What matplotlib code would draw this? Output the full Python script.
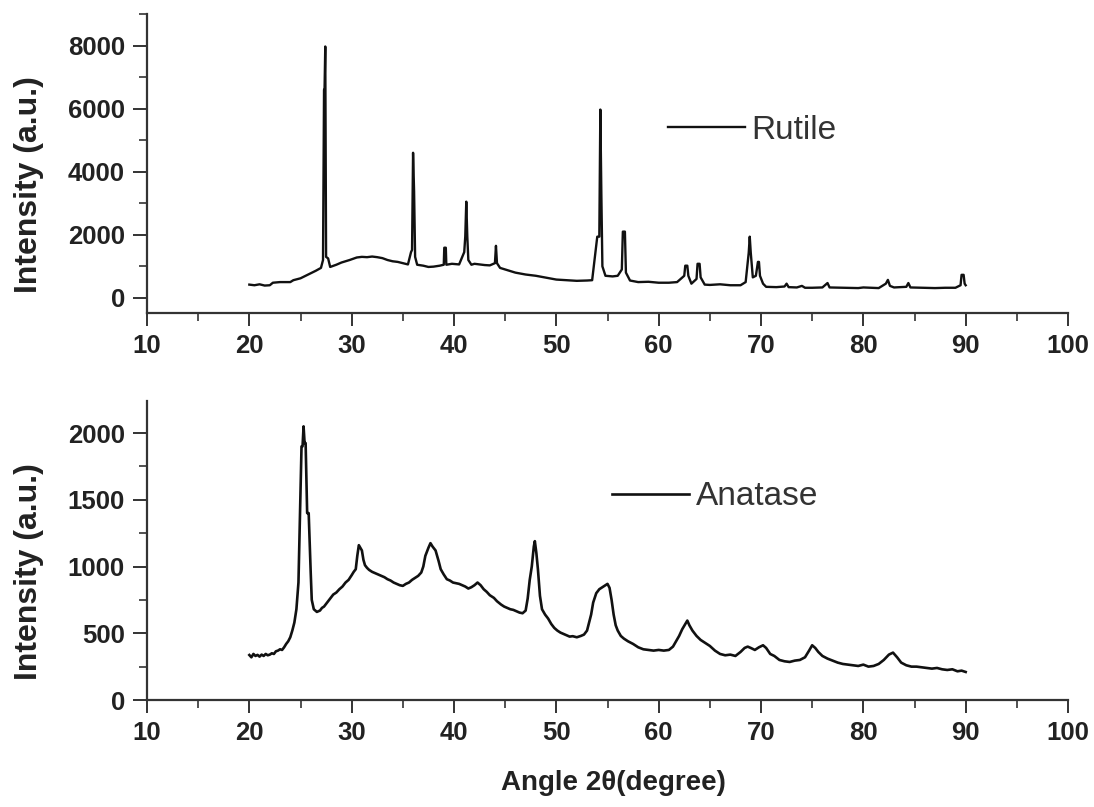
import matplotlib
matplotlib.use("Agg")
import matplotlib.pyplot as plt
from matplotlib.ticker import MultipleLocator

# ---------------- data ----------------
rutile_angle = [20.0, 20.5, 21.0, 21.5, 22.0, 22.3, 23.0, 24.0, 24.3, 25.0, 25.5, 26.0, 26.5, 27.0,
                27.2, 27.3, 27.35, 27.42, 27.5, 27.7, 27.9, 28.5, 29.0, 29.8, 30.5, 31.0, 31.5, 32.0,
                32.5, 33.0, 33.5, 34.0, 34.5, 35.0, 35.5, 35.8, 35.9, 36.0, 36.1, 36.2, 36.4, 37.0,
                37.5, 38.0, 38.6, 39.0, 39.05, 39.2, 39.25, 39.8, 40.5, 41.0, 41.1, 41.2, 41.3, 41.4,
                41.7, 42.0, 42.5, 43.0, 43.5, 44.0, 44.1, 44.2, 44.5, 45.0, 46.0, 47.0, 48.0, 49.0,
                50.0, 51.0, 52.0, 53.0, 53.5, 54.0, 54.2, 54.3, 54.4, 54.5, 54.8, 55.5, 56.0, 56.4,
                56.5, 56.7, 56.8, 57.2, 58.0, 59.0, 60.0, 61.0, 61.8, 62.5, 62.6, 62.8, 62.9, 63.2,
                63.7, 63.8, 64.0, 64.1, 64.5, 65.0, 66.0, 67.0, 68.0, 68.5, 68.8, 68.9, 69.0, 69.2,
                69.5, 69.7, 69.8, 69.9, 70.2, 70.5, 71.5, 72.3, 72.5, 72.7, 73.5, 74.0, 74.3, 75.0,
                76.0, 76.5, 76.7, 78.0, 79.5, 80.0, 81.5, 82.2, 82.4, 82.6, 83.0, 84.2, 84.4, 84.6,
                86.0, 87.0, 88.0, 89.0, 89.5, 89.6, 89.8, 89.9, 90.0]
rutile_intensity = [420, 400, 430, 390, 400, 480, 500, 500, 560, 620, 700, 780, 860, 950,
                    1200, 6600, 6600, 7970, 1300, 1250, 980, 1050, 1120, 1200, 1280, 1300, 1290, 1310,
                    1290, 1260, 1200, 1160, 1140, 1100, 1060, 1450, 1520, 4600, 3370, 1300, 1050, 1020,
                    980, 990, 1020, 1050, 1590, 1590, 1050, 1080, 1060, 1450, 1940, 3050, 1940, 1200,
                    1050, 1080, 1060, 1040, 1030, 1100, 1650, 1100, 950, 900, 800, 740, 700, 640,
                    580, 560, 540, 550, 560, 1940, 1940, 5970, 3270, 1000, 700, 680, 700, 900,
                    2100, 2100, 800, 550, 500, 510, 480, 480, 500, 700, 1020, 1020, 700, 450,
                    600, 1080, 1080, 650, 420, 410, 430, 400, 400, 500, 1430, 1940, 1430, 650,
                    700, 1140, 1140, 700, 450, 350, 340, 360, 450, 340, 330, 380, 320, 320,
                    330, 470, 330, 320, 310, 330, 310, 450, 570, 380, 330, 350, 470, 330,
                    320, 310, 320, 320, 400, 730, 730, 450, 400]

anatase_angle = [20.0, 20.2, 20.4, 20.6, 20.8, 21.0, 21.2, 21.4, 21.6, 21.8, 22.0, 22.2, 22.4, 22.6,
                 22.8, 23.0, 23.2, 23.4, 23.6, 23.8, 24.0, 24.2, 24.4, 24.6, 24.8, 24.95, 25.1, 25.2,
                 25.3, 25.4, 25.5, 25.65, 25.8, 26.0, 26.1, 26.3, 26.6, 26.9, 27.1, 27.3, 27.6, 27.9,
                 28.2, 28.5, 28.8, 29.1, 29.4, 29.7, 30.0, 30.2, 30.4, 30.55, 30.7, 30.85, 31.0, 31.15,
                 31.3, 31.5, 31.7, 32.0, 32.3, 32.6, 32.9, 33.2, 33.5, 33.8, 34.1, 34.4, 34.7, 35.0,
                 35.3, 35.6, 35.9, 36.2, 36.5, 36.8, 37.0, 37.2, 37.5, 37.7, 37.9, 38.2, 38.5, 38.7,
                 39.0, 39.3, 39.6, 39.9, 40.2, 40.5, 40.8, 41.1, 41.4, 41.7, 42.0, 42.3, 42.6, 42.9,
                 43.2, 43.5, 43.9, 44.2, 44.6, 44.9, 45.2, 45.5, 45.8, 46.1, 46.4, 46.7, 47.0, 47.2,
                 47.4, 47.6, 47.8, 47.9, 48.05, 48.2, 48.4, 48.6, 48.9, 49.2, 49.5, 49.8, 50.1, 50.4,
                 50.7, 51.0, 51.3, 51.6, 52.0, 52.4, 52.7, 53.0, 53.2, 53.4, 53.6, 53.9, 54.2, 54.5,
                 54.8, 55.0, 55.2, 55.4, 55.6, 55.8, 56.0, 56.3, 56.6, 57.0, 57.5, 58.0, 58.5, 59.0,
                 59.5, 60.0, 60.5, 61.0, 61.4, 61.7, 62.0, 62.3, 62.6, 62.8, 63.0, 63.3, 63.7, 64.1,
                 64.5, 65.0, 65.5, 66.0, 66.5, 67.0, 67.5, 68.0, 68.4, 68.7, 69.0, 69.4, 69.8, 70.2,
                 70.5, 70.9, 71.3, 71.8, 72.3, 72.8, 73.3, 73.8, 74.3, 74.7, 75.0, 75.3, 75.6, 76.0,
                 76.5, 77.0, 77.5, 78.0, 78.5, 79.0, 79.5, 80.0, 80.5, 81.0, 81.5, 82.0, 82.5, 82.9,
                 83.3, 83.7, 84.2, 84.7, 85.2, 85.7, 86.2, 86.7, 87.2, 87.7, 88.2, 88.7, 89.2, 89.6,
                 90.0]
anatase_intensity = [337, 320, 345, 330, 338, 325, 340, 330, 345, 335, 340, 350, 345, 365,
                     370, 380, 375, 395, 420, 440, 470, 520, 580, 680, 880, 1380, 1900, 1900,
                     2050, 1925, 1925, 1400, 1400, 950, 750, 680, 660, 670, 690, 700, 730, 760,
                     790, 805, 830, 850, 880, 900, 935, 960, 980, 1080, 1160, 1140, 1120, 1050,
                     1010, 990, 975, 960, 950, 940, 930, 920, 905, 895, 880, 870, 860, 855,
                     870, 880, 900, 915, 930, 955, 1000, 1080, 1140, 1175, 1150, 1120, 1040, 980,
                     940, 905, 895, 880, 875, 870, 860, 850, 835, 845, 860, 880, 860, 830,
                     810, 785, 765, 740, 715, 700, 690, 680, 675, 665, 655, 650, 670, 760,
                     900, 1000, 1150, 1190, 1100, 980, 780, 680, 640, 610, 570, 540, 520, 505,
                     495, 485, 475, 478, 470, 480, 490, 520, 580, 640, 730, 800, 830, 845,
                     860, 870, 840, 750, 640, 560, 520, 480, 460, 440, 420, 395, 380, 375,
                     370, 375, 370, 375, 400, 440, 480, 530, 570, 595, 560, 520, 480, 450,
                     430, 405, 370, 345, 335, 340, 330, 360, 390, 400, 390, 375, 395, 410,
                     390, 345, 330, 300, 290, 285, 295, 300, 320, 370, 410, 390, 360, 330,
                     310, 295, 280, 270, 265, 260, 255, 265, 250, 255, 270, 300, 340, 355,
                     320, 280, 260, 250, 250, 245, 240, 235, 240, 230, 225, 230, 215, 220,
                     210]

series_labels = ["Rutile", "Anatase"]
x_label = "Angle 2\u03b8(degree)"
y_label = "Intensity (a.u.)"

# ---------------- figure ----------------
plt.rcParams['font.family'] = ['Liberation Sans', 'DejaVu Sans']
W, H = 1094, 807
fig = plt.figure(figsize=(W / 100, H / 100), dpi=100)

ax1 = fig.add_axes([147 / W, 1 - 313 / H, 921 / W, 299 / H])
ax2 = fig.add_axes([147 / W, 1 - 700 / H, 921 / W, 299 / H])

line_color = "#111111"
axis_color = "#333333"
text_color = "#222222"

ax1.plot(rutile_angle, rutile_intensity, color=line_color, lw=1.7, label=series_labels[0])
ax2.plot(anatase_angle, anatase_intensity, color=line_color, lw=1.9, label=series_labels[1])

ax1.set_ylim(-480, 9000)
ax2.set_ylim(0, 2240)
ax1.yaxis.set_major_locator(MultipleLocator(2000))
ax1.yaxis.set_minor_locator(MultipleLocator(1000))
ax2.yaxis.set_major_locator(MultipleLocator(500))
ax2.yaxis.set_minor_locator(MultipleLocator(250))

for ax in (ax1, ax2):
    ax.set_xlim(10, 100)
    ax.xaxis.set_major_locator(MultipleLocator(10))
    ax.xaxis.set_minor_locator(MultipleLocator(5))
    for s in ("top", "right"):
        ax.spines[s].set_visible(False)
    for s in ("left", "bottom"):
        ax.spines[s].set_color(axis_color)
        ax.spines[s].set_linewidth(1.6)
    ax.tick_params(axis="y", which="major", direction="out", length=10, width=1.4,
                   color=axis_color, labelsize=18.5, pad=6, labelcolor=text_color)
    ax.tick_params(axis="x", which="major", direction="out", length=9, width=1.4,
                   color=axis_color, labelsize=18.5, pad=6, labelcolor=text_color)
    ax.tick_params(which="minor", direction="out", length=5.5, width=1.2, color=axis_color)
    for lab in ax.get_xticklabels() + ax.get_yticklabels():
        lab.set_fontweight("bold")
    ax.set_ylabel(y_label, fontsize=23, fontweight="bold", color=text_color)
    ax.yaxis.set_label_coords(-0.112, 0.43)

leg1 = ax1.legend(loc="center left", bbox_to_anchor=(0.566, 0.612), frameon=False,
                  fontsize=24, handlelength=2.3, handletextpad=0.2, borderpad=0, borderaxespad=0)
leg2 = ax2.legend(loc="center left", bbox_to_anchor=(0.505, 0.679), frameon=False,
                  fontsize=24, handlelength=2.3, handletextpad=0.2, borderpad=0, borderaxespad=0)
for leg in (leg1, leg2):
    for t in leg.get_texts():
        t.set_color("#333333")

fig.text(613 / W, 1 - 783 / H, x_label, ha="center", va="center", fontsize=20,
         fontweight="bold", color=text_color)

fig.savefig("out.png", dpi=100, facecolor="white")
